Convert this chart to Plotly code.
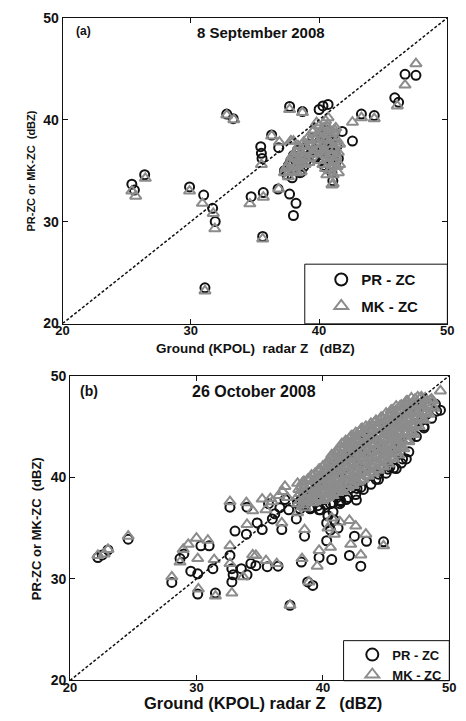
import plotly.graph_objects as go

# ---------------- data: panel (a) 8 September 2008 ----------------
a_pr_x = [25.4, 25.6, 26.4, 29.9, 31.0, 31.7, 31.9, 31.1, 32.8, 33.3, 34.7, 35.45, 35.5, 35.55,
          35.65, 35.6, 36.3, 36.85, 37.7, 38.7, 36.8, 37.7, 38.2, 38.0, 40.0, 40.3, 40.7,
          41.8, 42.6, 43.3, 44.3, 45.9, 46.2, 46.7, 47.55, 41.07,
          37.3, 37.5, 37.6, 37.8, 37.9, 38.0, 38.1, 38.3, 38.4, 38.5, 38.6, 38.8, 38.9, 39.0,
          39.2, 39.3, 39.5, 39.6, 39.8, 40.0, 40.2, 40.3, 40.4, 40.5, 40.6, 40.7, 40.8, 40.9,
          41.0, 41.1, 41.2, 41.3, 41.5, 41.4, 38.6, 40.3, 41.0]
a_pr_y = [33.67, 33.1, 34.6, 33.4, 32.6, 31.3, 30.0, 23.5, 40.55, 40.1, 32.45, 37.35, 36.7, 36.2,
          32.85, 28.55, 38.5, 37.25, 41.3, 40.8, 33.2, 32.7, 31.8, 30.6, 41.0, 41.35, 41.5,
          38.85, 37.9, 40.55, 40.4, 42.15, 41.7, 44.45, 44.35, 34.0,
          35.0, 34.6, 35.5, 36.0, 34.3, 36.5, 35.2, 37.0, 35.8, 34.8, 36.3, 35.4, 37.2, 36.0,
          37.6, 36.6, 38.2, 37.0, 36.4, 37.8, 36.0, 38.5, 35.5, 37.2, 39.0, 36.6, 38.0, 35.2,
          37.5, 36.2, 38.6, 35.8, 36.2, 37.4, 34.85, 36.0, 34.8]

a_mk_x = [25.4, 25.7, 26.45, 29.9, 30.9, 31.75, 31.87, 31.1, 32.8, 33.35, 34.6, 35.65, 35.6,
          35.5, 36.3, 36.85, 36.9, 37.7, 38.7, 37.8, 40.0, 40.7, 42.6, 43.3, 44.3, 46.1, 46.7,
          47.55, 41.1,
          37.4, 37.6, 37.7, 37.8, 37.9, 38.0, 38.2, 38.3, 38.4, 38.5, 38.6, 38.7, 38.8, 38.9,
          39.0, 39.1, 39.2, 39.4, 39.5, 39.6, 39.8, 39.9, 40.0, 40.1, 40.2, 40.3, 40.4, 40.5,
          40.6, 40.7, 40.8, 40.8, 40.9, 41.0, 41.0, 41.1, 41.1, 41.2, 41.3, 41.4, 41.5, 41.6,
          41.2, 40.5, 39.8, 39.6, 38.0,
          37.3, 37.5, 37.7, 37.9, 38.1, 38.2, 38.4, 38.6, 38.7, 38.9, 39.1, 39.2, 39.4, 39.5,
          39.7, 39.9, 38.0, 38.3, 38.8, 39.3,
          40.2, 40.3, 40.4, 40.5, 40.6, 40.7, 40.8, 40.9, 41.0, 41.1, 41.2, 41.3, 41.4, 41.5,
          40.6, 41.0, 41.3, 40.4, 41.6, 40.2]
a_mk_y = [33.0, 32.5, 34.25, 33.0, 31.8, 30.8, 29.3, 23.2, 40.45, 40.0, 31.75, 32.4, 28.3,
          35.6, 38.4, 33.2, 37.8, 41.0, 40.7, 37.9, 39.4, 40.2, 39.75, 40.2, 40.1, 41.35, 43.4,
          45.5, 33.7,
          35.2, 34.4, 35.8, 37.9, 36.4, 35.0, 36.8, 35.6, 37.4, 36.0, 34.9, 36.6, 37.8, 35.6,
          36.9, 38.2, 36.2, 37.4, 38.8, 36.7, 37.6, 38.6, 36.0, 37.2, 39.0, 35.6, 38.0, 36.6,
          39.4, 37.6, 35.0, 38.6, 36.4, 33.6, 37.2, 34.6, 38.8, 36.0, 37.8, 35.4, 36.8, 35.6,
          39.0, 39.9, 39.7, 39.0, 37.9,
          34.8, 35.4, 34.9, 35.6, 36.2, 35.4, 36.0, 36.8, 35.6, 36.2, 37.0, 35.8, 36.6, 37.6,
          38.0, 37.0, 36.6, 34.8, 37.4, 38.0,
          36.8, 38.2, 37.0, 35.2, 38.0, 36.2, 39.0, 37.6, 38.2, 35.8, 37.0, 39.2, 38.0, 34.8,
          34.6, 36.6, 36.4, 39.2, 37.6, 38.8]

# ---------------- data: panel (b) 26 October 2008 ----------------
b_pr_x = [22.2, 22.55, 23.0, 24.6, 28.05, 28.7, 29.0, 29.55, 30.1, 30.1, 30.35, 31.0, 31.3, 31.5,
          32.65, 32.65, 32.8, 32.8, 33.05, 32.9, 33.55, 34.0, 34.0, 33.95, 34.3, 34.7, 34.8,
          35.2, 35.6, 35.7, 36.0, 36.45, 36.75, 37.4, 37.9, 38.3, 38.55, 38.8, 39.2, 39.7,
          39.7, 40.3, 40.7, 41.2, 42.1, 42.5, 43.0, 43.45, 44.8, 41.35, 41.85, 42.65, 42.7,
          44.4, 45.15, 45.8, 46.6, 45.8, 46.1, 48.0, 48.3, 48.9, 49.3, 47.6,
          38.0, 38.3, 38.5, 38.6, 38.9, 39.0, 39.2, 39.4, 39.5, 39.7, 39.8, 40.0, 40.1, 40.2,
          40.3, 40.4, 40.5, 40.6, 40.7, 40.8, 40.9, 41.0, 41.1, 41.2, 41.3, 41.4, 41.5, 41.6,
          41.7, 41.8, 41.9, 42.0, 42.1, 42.2, 42.3, 42.4, 42.5, 42.6, 42.8, 42.9, 43.0, 43.1,
          43.2, 43.4, 43.5, 43.7, 43.8, 44.0, 44.2, 44.3, 44.5, 44.6, 44.8, 45.0, 45.1, 45.3,
          45.5, 45.7, 45.9, 46.1, 46.3, 46.5, 46.7, 46.9, 47.2, 47.5, 47.8, 48.2, 48.5,
          36.2, 36.6, 37.0, 37.3, 40.3, 40.6, 40.8,
          38.2, 39.0, 39.6, 40.2, 40.8, 41.4, 42.0, 42.6, 43.2, 43.8, 44.4, 45.0, 45.6, 46.2,
          46.8, 47.4, 48.0, 48.6, 49.0]
b_pr_y = [32.1, 32.35, 32.85, 33.9, 29.65, 32.0, 32.45, 30.75, 30.5, 28.5, 33.25, 33.25, 31.0, 28.6,
          37.05, 32.3, 31.0, 29.7, 34.7, 30.4, 31.0, 37.05, 30.4, 34.4, 31.5, 31.3, 35.5,
          34.85, 31.2, 37.4, 35.9, 31.25, 34.85, 27.4, 35.9, 31.65, 34.2, 29.7, 29.35, 32.1,
          36.8, 33.75, 31.9, 35.0, 32.3, 34.2, 31.25, 33.7, 33.65, 37.4, 37.8, 37.75, 38.9,
          40.3, 40.8, 40.85, 41.8, 42.4, 43.5, 44.85, 47.05, 47.2, 46.6, 45.4,
          37.4, 37.8, 38.4, 37.2, 38.0, 36.9, 38.6, 37.6, 39.2, 38.2, 36.8, 39.5, 37.8, 40.4,
          38.6, 36.2, 39.6, 37.4, 41.0, 38.8, 35.8, 40.0, 38.0, 41.6, 39.2, 37.6, 40.6, 42.2,
          38.6, 41.0, 39.6, 42.6, 40.4, 38.9, 41.6, 43.2, 39.8, 42.0, 40.6, 43.6, 39.0, 41.6,
          44.0, 40.2, 42.6, 44.4, 41.0, 43.2, 39.8, 42.0, 44.8, 40.8, 43.6, 42.2, 45.4, 41.0,
          44.0, 42.8, 45.8, 43.4, 41.8, 44.6, 46.4, 43.8, 45.2, 46.8, 45.6, 46.2, 47.2,
          36.4, 37.0, 37.8, 36.8, 35.5, 34.8, 36.6,
          36.9, 37.0, 37.2, 37.3, 37.5, 37.7, 38.0, 38.3, 38.8, 39.3, 39.8, 40.4, 40.9, 41.4,
          42.5, 44.0, 45.0, 45.8, 46.5]

# scattered MK-ZC points (outside the dense band)
b_mk_x = [22.2, 22.7, 23.0, 24.6, 28.05, 28.7, 28.95, 29.35, 30.0, 30.15, 30.1, 30.9, 31.4, 31.5,
          32.65, 32.65, 32.8, 32.65, 33.95, 34.0, 33.7, 34.45, 34.7, 34.45, 35.2, 35.5, 35.85,
          36.35, 36.75, 37.0, 37.4, 38.0, 38.35, 38.55, 38.9, 39.55, 39.7, 40.6, 41.35, 42.1,
          42.2, 42.6, 43.0, 43.4, 44.8, 49.3,
          35.5, 36.0, 36.5, 36.8, 37.2, 40.4, 40.7, 40.9]
b_mk_y = [32.3, 32.45, 32.9, 34.2, 30.2, 31.65, 32.9, 33.4, 34.0, 29.0, 32.0, 33.8, 31.9, 28.3,
          37.6, 33.25, 28.6, 31.5, 37.5, 35.35, 30.2, 32.35, 32.3, 36.7, 37.85, 31.8, 37.9,
          31.5, 35.5, 39.1, 27.4, 36.5, 32.0, 34.85, 29.7, 31.25, 32.8, 33.1, 35.6, 35.75,
          33.4, 35.2, 32.35, 34.4, 33.25, 48.5,
          36.8, 37.6, 38.2, 38.6, 38.0, 35.0, 36.0, 34.4]

b_band_x = [38.0, 38.0, 38.1, 38.0, 38.4, 38.5, 38.3, 38.4, 38.8, 38.7, 38.9, 38.8,
            39.2, 39.1, 39.3, 39.2, 39.1, 39.6, 39.7, 39.5, 39.6, 39.7,
            40.0, 40.1, 39.9, 40.0, 40.1, 40.0, 40.4, 40.3, 40.5, 40.4, 40.3, 40.5,
            40.8, 40.9, 40.7, 40.8, 40.9, 40.8, 40.7, 41.2, 41.1, 41.3, 41.2, 41.1, 41.3, 41.2,
            41.6, 41.5, 41.7, 41.6, 41.5, 41.7, 41.6, 41.5, 42.0, 42.1, 41.9, 42.0, 42.1, 42.0,
            41.9, 42.1, 42.4, 42.3, 42.5, 42.4, 42.3, 42.5, 42.4, 42.3,
            42.8, 42.9, 42.7, 42.8, 42.9, 42.8, 42.7, 42.9, 43.2, 43.1, 43.3, 43.2, 43.1, 43.3,
            43.2, 43.1, 43.6, 43.7, 43.5, 43.6, 43.7, 43.6, 43.5, 43.7,
            44.0, 43.9, 44.1, 44.0, 43.9, 44.1, 44.0, 44.1, 44.4, 44.5, 44.3, 44.4, 44.5, 44.4,
            44.3, 44.5, 44.8, 44.7, 44.9, 44.8, 44.7, 44.9, 44.8, 44.7,
            45.2, 45.3, 45.1, 45.2, 45.3, 45.2, 45.1, 45.3, 45.6, 45.5, 45.7, 45.6, 45.5, 45.7,
            45.6, 45.5, 46.0, 46.1, 45.9, 46.0, 46.1, 46.0, 45.9, 46.1,
            46.4, 46.3, 46.5, 46.4, 46.3, 46.5, 46.4, 46.8, 46.9, 46.7, 46.8, 46.9, 46.8, 46.7,
            47.2, 47.1, 47.3, 47.2, 47.1, 47.3, 47.6, 47.7, 47.5, 47.6, 47.7,
            48.0, 48.1, 47.9, 48.0, 48.4, 48.3, 48.5, 48.8, 48.7,
            38.2, 38.2, 38.3, 38.6, 38.6, 38.7, 38.6, 38.5, 39.0, 39.0, 39.1, 39.0,
            39.4, 39.3, 39.4, 39.5, 39.4, 39.8, 39.8, 39.9, 39.8, 39.7,
            40.2, 40.2, 40.3, 40.2, 40.1, 40.2, 40.6, 40.6, 40.5, 40.7, 40.6, 40.6,
            41.0, 41.0, 40.9, 41.0, 41.1, 41.0, 41.0, 41.4, 41.4, 41.3, 41.4, 41.5, 41.4, 41.4,
            41.8, 41.8, 41.9, 41.8, 41.7, 41.8, 41.8, 41.8, 42.2, 42.2, 42.1, 42.2, 42.3, 42.2,
            42.2, 42.2, 42.6, 42.6, 42.5, 42.6, 42.7, 42.6, 42.6, 42.6,
            43.0, 43.0, 42.9, 43.0, 43.1, 43.0, 43.0, 43.0, 43.4, 43.4, 43.3, 43.4, 43.5, 43.4,
            43.4, 43.4, 43.8, 43.8, 43.7, 43.8, 43.9, 43.8, 43.8, 43.8,
            44.2, 44.2, 44.1, 44.2, 44.3, 44.2, 44.2, 44.2, 44.6, 44.6, 44.5, 44.6, 44.7, 44.6,
            44.6, 44.6, 45.0, 45.0, 44.9, 45.0, 45.1, 45.0, 45.0, 45.0,
            45.4, 45.4, 45.3, 45.4, 45.5, 45.4, 45.4, 45.4, 45.8, 45.8, 45.7, 45.8, 45.9, 45.8,
            45.8, 45.8, 46.2, 46.2, 46.1, 46.2, 46.3, 46.2, 46.2,
            46.6, 46.6, 46.5, 46.6, 46.7, 46.6, 46.6, 47.0, 47.0, 46.9, 47.0, 47.1, 47.0,
            47.4, 47.4, 47.3, 47.4, 47.5, 47.8, 47.8, 47.7, 47.8, 48.2, 48.2, 48.1, 48.6, 48.6]
b_band_y = [37.4, 38.1, 38.8, 39.4, 37.3, 38.0, 38.7, 39.5, 37.6, 38.3, 39.0, 39.8,
            37.5, 38.2, 38.9, 39.6, 40.2, 37.8, 38.5, 39.2, 39.9, 40.6,
            37.7, 38.4, 39.1, 39.8, 40.5, 41.1, 38.0, 38.7, 39.4, 40.1, 40.8, 41.5,
            38.2, 38.9, 39.6, 40.3, 41.0, 41.7, 42.2, 38.5, 39.2, 39.9, 40.6, 41.3, 42.0, 42.6,
            38.6, 39.3, 40.0, 40.7, 41.4, 42.1, 42.8, 43.3, 39.0, 39.7, 40.4, 41.1, 41.8, 42.5,
            43.2, 43.8, 39.2, 39.9, 40.6, 41.3, 42.0, 42.7, 43.4, 44.1,
            39.5, 40.2, 40.9, 41.6, 42.3, 43.0, 43.7, 44.5, 39.8, 40.5, 41.2, 41.9, 42.6, 43.3,
            44.0, 44.8, 40.1, 40.8, 41.5, 42.2, 42.9, 43.6, 44.3, 45.0,
            40.4, 41.1, 41.8, 42.5, 43.2, 43.9, 44.6, 45.4, 40.7, 41.4, 42.1, 42.8, 43.5, 44.2,
            44.9, 45.6, 41.0, 41.7, 42.4, 43.1, 43.8, 44.5, 45.2, 45.9,
            41.3, 42.0, 42.7, 43.4, 44.1, 44.8, 45.5, 46.2, 41.8, 42.5, 43.2, 43.9, 44.6, 45.3,
            46.0, 46.6, 42.2, 42.9, 43.6, 44.3, 45.0, 45.7, 46.4, 47.0,
            42.8, 43.5, 44.2, 44.9, 45.6, 46.3, 47.0, 43.5, 44.2, 44.9, 45.6, 46.3, 47.0, 47.5,
            44.2, 44.9, 45.6, 46.3, 47.0, 47.7, 45.0, 45.7, 46.4, 47.1, 47.8,
            45.6, 46.3, 47.0, 47.7, 46.2, 46.9, 47.6, 46.8, 47.5,
            37.7, 38.4, 39.1, 37.0, 37.6, 38.3, 39.0, 39.6, 37.8, 38.5, 39.2, 39.9,
            37.6, 38.3, 39.0, 39.7, 40.4, 38.0, 38.7, 39.4, 40.1, 40.8,
            37.9, 38.6, 39.3, 40.0, 40.7, 41.3, 38.3, 39.0, 39.7, 40.4, 41.1, 41.8,
            38.5, 39.2, 39.9, 40.6, 41.3, 42.0, 42.5, 38.8, 39.5, 40.2, 40.9, 41.6, 42.3, 42.9,
            39.0, 39.7, 40.4, 41.1, 41.8, 42.5, 43.2, 43.6, 39.3, 40.0, 40.7, 41.4, 42.1, 42.8,
            43.5, 44.0, 39.6, 40.3, 41.0, 41.7, 42.4, 43.1, 43.8, 44.4,
            39.8, 40.5, 41.2, 41.9, 42.6, 43.3, 44.0, 44.7, 40.2, 40.9, 41.6, 42.3, 43.0, 43.7,
            44.4, 45.0, 40.5, 41.2, 41.9, 42.6, 43.3, 44.0, 44.7, 45.3,
            40.8, 41.5, 42.2, 42.9, 43.6, 44.3, 45.0, 45.6, 41.1, 41.8, 42.5, 43.2, 43.9, 44.6,
            45.3, 45.9, 41.5, 42.2, 42.9, 43.6, 44.3, 45.0, 45.7, 46.3,
            41.9, 42.6, 43.3, 44.0, 44.7, 45.4, 46.1, 46.6, 42.4, 43.1, 43.8, 44.5, 45.2, 45.9,
            46.6, 47.0, 43.0, 43.7, 44.4, 45.1, 45.8, 46.5, 47.1,
            43.6, 44.3, 45.0, 45.7, 46.4, 47.1, 47.5, 44.4, 45.1, 45.8, 46.5, 47.2, 47.8,
            45.2, 45.9, 46.6, 47.3, 47.9, 45.8, 46.5, 47.2, 47.9, 46.4, 47.1, 47.8, 47.0, 47.7]

one_to_one = [20, 50]
tick_vals = [20, 30, 40, 50]
legend_names = ["PR - ZC", "MK - ZC"]
titles = ["8 September 2008", "26 October 2008"]
panel_tags = ["(a)", "(b)"]
x_title = ["Ground (KPOL)  radar Z   (dBZ)", "Ground (KPOL) radar Z   (dBZ)"]
y_title = "PR-ZC or MK-ZC  (dBZ)"

W, H = 466, 721
BLACK = "#111111"
GREY = "#8c8c8c"
FONT = "Liberation Sans"

def px_x(p):
    return p / W

def px_y(p):
    return 1 - p / H

fig = go.Figure()

circle = dict(symbol="circle-open", size=9, color=BLACK, line=dict(width=2, color=BLACK))
tri = dict(symbol="triangle-up-open", size=10, color=GREY, line=dict(width=2, color=GREY))

panels = [
    ("x", "y", "legend", a_pr_x, a_pr_y, a_mk_x, a_mk_y),
    ("x2", "y2", "legend2", b_pr_x, b_pr_y, b_mk_x + b_band_x, b_mk_y + b_band_y),
]
for xa, ya, lg, prx, pry, mkx, mky in panels:
    fig.add_trace(go.Scatter(x=prx, y=pry, mode="markers", name=legend_names[0], xaxis=xa,
                             yaxis=ya, marker=circle, legend=lg, legendgroup=lg + "pr"))
    fig.add_trace(go.Scatter(x=mkx, y=mky, mode="markers", name=legend_names[1], xaxis=xa,
                             yaxis=ya, marker=tri, legend=lg, legendgroup=lg + "mk"))
    fig.add_trace(go.Scatter(x=one_to_one, y=one_to_one, mode="lines", xaxis=xa, yaxis=ya,
                             line=dict(color=BLACK, width=1.5, dash="3px,2px"),
                             showlegend=False, hoverinfo="skip"))

def axis(domain, anchor, fs, standoff):
    return dict(domain=domain, anchor=anchor, range=[20, 50], tickvals=tick_vals,
                ticks="inside", ticklen=5, tickcolor=BLACK, mirror="ticks",
                showline=True, linecolor=BLACK, linewidth=1, showgrid=False, zeroline=False,
                ticklabelstandoff=standoff,
                tickfont=dict(family=FONT, size=fs, color=BLACK, weight="bold"))

# panel geometry (px)
A = dict(l=57.3, r=454, t=10, b=322.7)
B = dict(l=65, r=456, t=376, b=687.7)
# legend boxes (px): left, top, right, bottom
LA = (307, 262, 454, 323)
LB = (347, 647, 456, 688)

fig.update_layout(
    width=W, height=H, margin=dict(l=0, r=0, t=0, b=0),
    paper_bgcolor="white", plot_bgcolor="white",
    xaxis=axis([px_x(A["l"]), px_x(A["r"])], "y", 13, -5),
    yaxis=axis([px_y(A["b"]), px_y(A["t"])], "x", 14, 0),
    xaxis2=axis([px_x(B["l"]), px_x(B["r"])], "y2", 13, -5),
    yaxis2=axis([px_y(B["b"]), px_y(B["t"])], "x2", 14, 0),
    legend=dict(x=px_x(324), y=px_y(261), xanchor="left", yanchor="top",
                borderwidth=0, bgcolor="rgba(0,0,0,0)", tracegroupgap=4,
                font=dict(family=FONT, size=15, color=BLACK, weight="bold"),
                itemsizing="constant"),
    legend2=dict(x=px_x(356), y=px_y(646), xanchor="left", yanchor="top",
                 borderwidth=0, bgcolor="rgba(0,0,0,0)", tracegroupgap=0,
                 font=dict(family=FONT, size=13, color=BLACK, weight="bold"),
                 itemsizing="constant"),
    showlegend=True,
    shapes=[dict(type="rect", xref="paper", yref="paper",
                 x0=px_x(b[0]), x1=px_x(b[2]), y0=px_y(b[3]), y1=px_y(b[1]),
                 line=dict(color=BLACK, width=1), fillcolor="rgba(0,0,0,0)", layer="above")
            for b in (LA, LB)],
)

ann = []
def text(s, x, y, size, xanchor="center", angle=0, bold=True):
    ann.append(dict(text=s, x=px_x(x), y=px_y(y), xref="paper", yref="paper",
                    showarrow=False, xanchor=xanchor, yanchor="middle", textangle=angle,
                    font=dict(family=FONT, size=size, color=BLACK,
                              weight="bold" if bold else "normal")))

text(panel_tags[0], 69, 24, 12, xanchor="left")
text(titles[0], 262, 25, 15)
text(x_title[0], 256, 348, 13.5)
text(y_title, 25, 167, 11, angle=-90)
text(panel_tags[1], 73, 392, 14, xanchor="left")
text(titles[1], 255, 392, 16)
text(x_title[1], 264, 711, 16.5)
text(y_title, 30, 533, 13, angle=-90)
fig.update_layout(annotations=ann)

fig.write_html("out.html", config={"displayModeBar": False},
               post_script="document.body.style.margin='0';document.body.style.overflow='hidden';")
